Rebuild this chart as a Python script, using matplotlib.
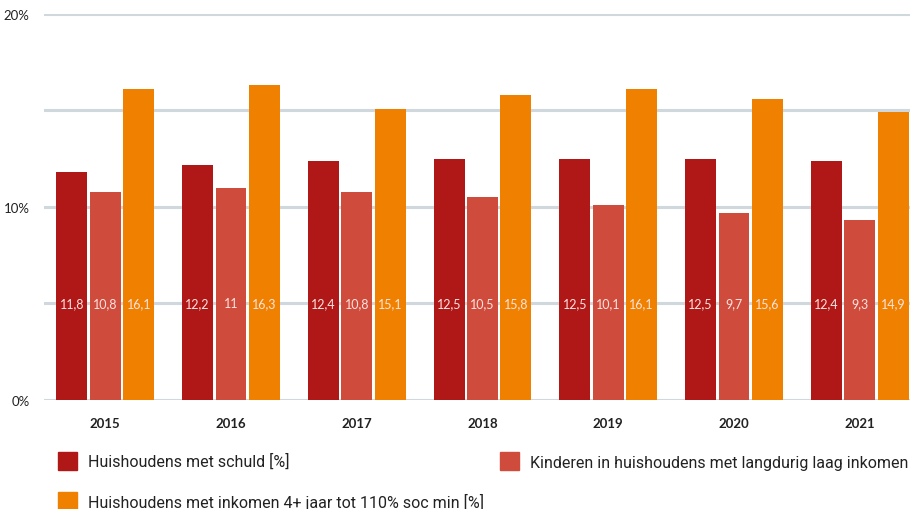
import matplotlib
matplotlib.use("Agg")
import matplotlib.pyplot as plt
from matplotlib.patches import Rectangle
import numpy as np

years = ["2015", "2016", "2017", "2018", "2019", "2020", "2021"]
schuld = [11.8, 12.2, 12.4, 12.5, 12.5, 12.5, 12.4]
kinderen = [10.8, 11.0, 10.8, 10.5, 10.1, 9.7, 9.3]
inkomen = [16.1, 16.3, 15.1, 15.8, 16.1, 15.6, 14.9]
series_names = ["Huishoudens met schuld [%]",
                "Kinderen in huishoudens met langdurig laag inkomen [%]",
                "Huishoudens met inkomen 4+ jaar tot 110% soc min [%]"]
colors = ["#b01818", "#cf4b3c", "#f08000"]

plt.rcParams['font.family'] = ['Lato', 'DejaVu Sans']

fig = plt.figure(figsize=(9.1, 5.1), dpi=100)
ax = fig.add_axes([0.048, 0.2137, 0.952, 0.757])

x = np.arange(len(years))
w = 0.266
bw = 0.246
for i, (vals, c) in enumerate(zip([schuld, kinderen, inkomen], colors)):
    pos = x + (i - 1) * w
    ax.bar(pos, vals, width=bw, color=c, zorder=3)
    for p, v in zip(pos, vals):
        lab = ("%g" % v).replace(".", ",")
        ax.text(p, 5, lab, ha="center", va="center", color="#fbe3e0",
                fontsize=9, zorder=4)

ax.set_xlim(-0.49, 6.4)
ax.set_ylim(0, 20)
ax.set_yticks([0, 5, 10, 15, 20])
ax.set_yticklabels(["0%", "", "10%", "", "20%"])
ax.yaxis.grid(True, color="#cfd8dc", linewidth=2.2, zorder=0)
ax.set_axisbelow(True)
ax.set_xticks(x)
ax.set_xticklabels(years, fontweight="bold", fontsize=9.5)
ax.tick_params(axis="both", length=0, labelsize=9.5, colors="#222222")
ax.tick_params(axis="x", pad=12)
ax.tick_params(axis="y", pad=10)
for s in ax.spines.values():
    s.set_visible(False)

# legend
leg_font = ['Roboto', 'DejaVu Sans']
leg_pos = [(58, 462), (500, 462), (58, 502)]
for (px, py), c, name in zip(leg_pos, colors, series_names):
    fig.patches.append(Rectangle((px / 910, 1 - (py + 9) / 510), 19 / 910, 18 / 510,
                                 transform=fig.transFigure, color=c))
    fig.text((px + 30) / 910, 1 - py / 510, name, ha="left", va="center",
             fontsize=11.5, family=leg_font, color="#222222")

fig.savefig("out.png", dpi=100)
